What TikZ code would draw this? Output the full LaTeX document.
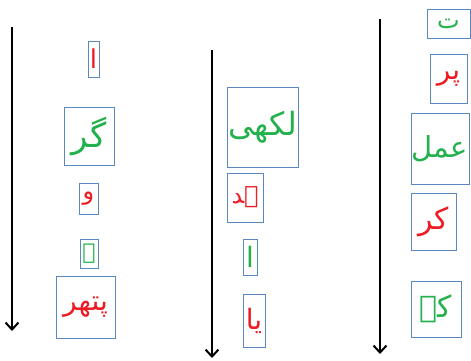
\documentclass[tikz,border=0pt]{standalone}
\usepackage{fontspec}
\TeXXeTstate=1
\newfontfamily\arabicfont[Script=Arabic]{DejaVu Sans}
\usetikzlibrary{arrows.meta}
\definecolor{urred}{RGB}{237,28,36}
\definecolor{urgreen}{RGB}{34,177,76}
\definecolor{boxblue}{RGB}{91,135,194}
\newcommand\urf[1]{\arabicfont\fontsize{#1}{#1}\selectfont}
\tikzset{
  lbox/.style={draw=boxblue, line width=0.9pt, fill=white, inner sep=0pt, align=center},
  redtxt/.style={text=urred},
  greentxt/.style={text=urgreen},
  flow/.style={line width=2.4pt, -{Straight Barb[length=7pt,width=13pt,line width=2pt]}}
}
\begin{document}
\begin{tikzpicture}[x=1pt,y=-1pt]
\useasboundingbox (0,0) rectangle (471,360);
% arrows
\coordinate (s1) at (12,27);  \coordinate (e1) at (12,331);
\coordinate (s2) at (212,50); \coordinate (e2) at (212,358);
\coordinate (s3) at (380,19); \coordinate (e3) at (380,354);
\draw[flow] (s1) -- (e1);
\draw[flow] (s2) -- (e2);
\draw[flow] (s3) -- (e3);
% column 1
\node[lbox, redtxt, minimum width=11pt, minimum height=36pt, font={\urf{26}}] (a1) at (93.5,59) {\beginR ا\endR};
\node[lbox, greentxt, minimum width=50pt, minimum height=58pt, font={\urf{34}}] (a2) at (89,136) {\beginR گر\endR};
\node[lbox, redtxt, minimum width=19pt, minimum height=31pt, font={\urf{24}}] (a3) at (88.5,198.5) {\beginR و\endR};
\node[lbox, greentxt, minimum width=18pt, minimum height=29pt, font={\urf{22}}] (a4) at (89,253.5) {\beginR ہ\endR};
\node[lbox, redtxt, minimum width=59pt, minimum height=62pt, font={\urf{28}}] (a5) at (85.5,307) {\beginR پتھر\endR};
% column 2
\node[lbox, greentxt, minimum width=71pt, minimum height=80pt, font={\urf{32}}] (b1) at (262.5,127) {\beginR لکھی\endR};
\node[lbox, redtxt, minimum width=36pt, minimum height=49pt, font={\urf{24}}] (b2) at (245,197.5) {\beginR ہد\endR};
\node[lbox, greentxt, minimum width=14pt, minimum height=36pt, font={\urf{28}}] (b3) at (250,257) {\beginR ا\endR};
\node[lbox, redtxt, minimum width=22pt, minimum height=53pt, font={\urf{28}}] (b4) at (254,320.5) {\beginR یا\endR};
% column 3
\node[lbox, greentxt, minimum width=43pt, minimum height=29pt, font={\urf{24}}] (c1) at (448.5,23.5) {\beginR ت\endR};
\node[lbox, redtxt, minimum width=37pt, minimum height=49pt, font={\urf{28}}] (c2) at (448.5,78.5) {\beginR پر\endR};
\node[lbox, greentxt, minimum width=58pt, minimum height=71pt, font={\urf{29}}] (c3) at (440,148.5) {\beginR عمل\endR};
\node[lbox, redtxt, minimum width=45pt, minimum height=57pt, font={\urf{30}}] (c4) at (433.5,221.5) {\beginR کر\endR};
\node[lbox, greentxt, minimum width=50pt, minimum height=56pt, font={\urf{30}}] (c5) at (436,309) {\beginR کے\endR};
\end{tikzpicture}
\end{document}
